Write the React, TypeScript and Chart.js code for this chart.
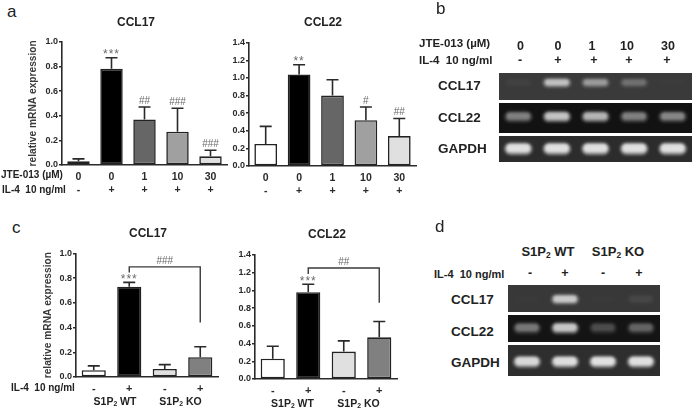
import React, { useEffect, useRef } from "react";
import { Chart, registerables } from "chart.js";

Chart.register(...registerables);
Chart.defaults.font.family = '"Liberation Sans", Arial, sans-serif';

// ---- data ----
const jteDoses = ["0", "0", "1", "10", "30"];
const il4Jte = ["-", "+", "+", "+", "+"];
const il4Geno = ["-", "+", "-", "+"];

const aCcl17Values = [0.03, 0.78, 0.37, 0.27, 0.07];
const aCcl17Errors = [0.02, 0.09, 0.1, 0.19, 0.05];
const aCcl17Marks = ["", "***", "##", "###", "###"];

const aCcl22Values = [0.25, 1.04, 0.8, 0.52, 0.34];
const aCcl22Errors = [0.2, 0.11, 0.18, 0.15, 0.2];
const aCcl22Marks = ["", "**", "", "#", "##"];

const cCcl17Values = [0.055, 0.73, 0.065, 0.16];
const cCcl17Errors = [0.035, 0.035, 0.035, 0.085];
const cCcl17Marks = ["", "***", "", ""];

const cCcl22Values = [0.23, 0.98, 0.31, 0.47];
const cCcl22Errors = [0.14, 0.09, 0.12, 0.18];
const cCcl22Marks = ["", "***", "", ""];

const jteFills = ["#ffffff", "#000000", "#666666", "#a0a0a0", "#e0e0e0"];
const genoFills17 = ["#ffffff", "#000000", "#e0e0e0", "#808080"];

const gelLanesB = ["0/-", "0/+", "1/+", "10/+", "30/+"];
const gelLanesD = ["WT -", "WT +", "KO -", "KO +"];
const gelB17 = [0.03, 0.58, 0.38, 0.2, 0.01];
const gelB22 = [0.36, 0.66, 0.58, 0.36, 0.38];
const gelBGapdh = [0.82, 0.82, 0.82, 0.82, 0.82];
const gelD17 = [0.01, 0.64, 0.01, 0.05];
const gelD22 = [0.32, 0.68, 0.17, 0.25];
const gelDGapdh = [0.76, 0.8, 0.82, 0.82];

// ---- plugins ----
const errorAndMarks = {
  id: "errorAndMarks",
  afterDatasetsDraw(chart: any, _a: any, o: any) {
    const { ctx, scales } = chart;
    const x = scales.x;
    const y = scales.y;
    ctx.save();
    ctx.strokeStyle = "#2a2a2a";
    ctx.lineWidth = 1.6;
    o.values.forEach((v: number, i: number) => {
      const cx = x.getPixelForValue(i);
      const top = y.getPixelForValue(v + o.errors[i]);
      ctx.beginPath();
      ctx.moveTo(cx, y.getPixelForValue(v));
      ctx.lineTo(cx, top);
      ctx.moveTo(cx - 6, top);
      ctx.lineTo(cx + 6, top);
      ctx.stroke();
      if (o.marks[i]) {
        const star = o.marks[i].includes("*");
        ctx.fillStyle = "#6a6a6a";
        ctx.font = (star ? "12px" : "10px") + ' "Liberation Sans", Arial, sans-serif';
        (ctx as any).letterSpacing = star ? "1px" : "0px";
        ctx.textAlign = "center";
        ctx.textBaseline = "middle";
        ctx.fillText(o.marks[i], cx, top - (star ? 3 : 6));
        (ctx as any).letterSpacing = "0px";
      }
    });
    if (o.bracket) {
      const b = o.bracket;
      const xl = x.getPixelForValue(b.from);
      const xr = x.getPixelForValue(b.to);
      const yTop = y.getPixelForValue(b.level);
      ctx.strokeStyle = "#3a3a3a";
      ctx.lineWidth = 1.4;
      ctx.beginPath();
      ctx.moveTo(xl, y.getPixelForValue(b.leftEnd));
      ctx.lineTo(xl, yTop);
      ctx.lineTo(xr, yTop);
      ctx.lineTo(xr, y.getPixelForValue(b.rightEnd));
      ctx.stroke();
      ctx.fillStyle = "#6a6a6a";
      ctx.font = '10px "Liberation Sans", Arial, sans-serif';
      ctx.textAlign = "center";
      ctx.textBaseline = "middle";
      ctx.fillText(b.label, (xl + xr) / 2, yTop - 6);
    }
    ctx.restore();
  },
};

const gelLook = {
  id: "gelLook",
  beforeDatasetsDraw(chart: any, _a: any, o: any) {
    const { ctx, chartArea: c } = chart;
    ctx.save();
    ctx.fillStyle = o.background;
    ctx.fillRect(c.left, c.top, c.right - c.left, c.bottom - c.top);
    ctx.restore();
  },
  beforeDatasetDraw(chart: any, args: any) {
    chart.ctx.save();
    chart.ctx.filter = args.index === 0 ? "blur(1.5px)" : "blur(1px)";
  },
  afterDatasetDraw(chart: any) {
    chart.ctx.restore();
  },
};

// ---- components ----
type BarProps = {
  title: string;
  yTitle?: string;
  labels: any[];
  values: number[];
  errors: number[];
  marks: string[];
  fills: string[];
  yMax: number;
  bracket?: any;
  canvasLeft: number;
  canvasRight: number;
  canvasTop: number;
  canvasBottom: number;
  axisX: number;
  areaRight: number;
  areaTop: number;
  baseY: number;
  titleY: number;
  tickSize: number;
};

function BarPanel(p: BarProps) {
  const ref = useRef<HTMLCanvasElement>(null);
  useEffect(() => {
    const padTop = p.titleY - p.canvasTop - 7.2;
    const chart = new Chart(ref.current!, {
      type: "bar",
      plugins: [errorAndMarks],
      data: {
        labels: p.labels,
        datasets: [
          {
            data: p.values,
            backgroundColor: p.fills,
            borderColor: "#222222",
            borderWidth: 1.6,
            borderSkipped: false,
            barPercentage: 0.68,
            categoryPercentage: 1,
            yAxisID: "y",
          },
        ],
      },
      options: {
        animation: false,
        responsive: false,
        layout: { padding: 0 },
        plugins: {
          legend: { display: false },
          tooltip: { enabled: false },
          title: {
            display: true,
            text: p.title,
            color: "#222222",
            font: { size: 12, weight: "bold", lineHeight: 1.2 },
            padding: { top: padTop, bottom: p.areaTop - p.canvasTop - padTop - 14.4 },
          },
          errorAndMarks: { values: p.values, errors: p.errors, marks: p.marks, bracket: p.bracket },
        } as any,
        scales: {
          x: {
            afterFit: (s: any) => {
              s.height = p.canvasBottom - p.baseY;
            },
            grid: { display: false, drawTicks: false },
            border: { color: "#2a2a2a", width: 1.6 },
            ticks: {
              autoSkip: false,
              maxRotation: 0,
              padding: 5,
              color: "#2a2a2a",
              font: { size: p.tickSize, weight: "bold", lineHeight: 1.3 },
            },
          },
          y: {
            min: 0,
            max: p.yMax,
            afterFit: (s: any) => {
              s.width = p.axisX - p.canvasLeft;
            },
            title: p.yTitle
              ? {
                  display: true,
                  text: p.yTitle,
                  color: "#3a3a3a",
                  font: { size: 10.2, weight: "bold" },
                  padding: { top: 5, bottom: 0 },
                }
              : { display: false },
            grid: { drawOnChartArea: false, drawTicks: true, tickLength: 3, color: "#2a2a2a", lineWidth: 1.4 },
            border: { color: "#2a2a2a", width: 1.6 },
            ticks: {
              stepSize: 0.2,
              padding: 1,
              color: "#2a2a2a",
              font: { size: 9, weight: "bold" },
              callback: (v: any) => Number(v).toFixed(1),
            },
          },
          // empty right-hand axis: keeps the title centred where the figure has it
          yRight: {
            type: "linear",
            position: "right",
            min: 0,
            max: p.yMax,
            afterFit: (s: any) => {
              s.width = p.canvasRight - p.areaRight;
            },
            grid: { display: false, drawTicks: false },
            border: { display: false },
            ticks: { display: false },
          },
        },
      } as any,
    });
    return () => chart.destroy();
  }, []);
  const w = p.canvasRight - p.canvasLeft;
  const h = p.canvasBottom - p.canvasTop;
  return (
    <canvas
      ref={ref}
      width={w}
      height={h}
      style={{ position: "absolute", left: p.canvasLeft, top: p.canvasTop, width: w, height: h }}
    />
  );
}

type GelProps = {
  lanes: string[];
  intensity: number[];
  background: string;
  left: number;
  top: number;
  right: number;
  bottom: number;
  low: number;
  high: number;
};

function GelRow(p: GelProps) {
  const ref = useRef<HTMLCanvasElement>(null);
  useEffect(() => {
    const glow = (v: number, k: number) => `rgba(255,255,255,${v * k})`;
    const mid = (p.low + p.high) / 2;
    const half = (p.high - p.low) / 2;
    const chart = new Chart(ref.current!, {
      type: "bar",
      plugins: [gelLook],
      data: {
        labels: p.lanes,
        datasets: [
          {
            data: p.intensity.map(() => [mid - half * 1.1, mid + half * 1.1]),
            backgroundColor: p.intensity.map((v) => glow(v, 0.7)),
            borderRadius: 6,
            borderSkipped: false,
            barPercentage: 0.72,
            categoryPercentage: 1,
            grouped: false,
            order: 2,
          },
          {
            data: p.intensity.map(() => [mid - half * 0.6, mid + half * 0.8]),
            backgroundColor: p.intensity.map((v) => glow(v, 0.8)),
            borderRadius: 4,
            borderSkipped: false,
            barPercentage: 0.6,
            categoryPercentage: 1,
            grouped: false,
            order: 1,
          },
        ],
      },
      options: {
        animation: false,
        responsive: false,
        layout: { padding: 0 },
        plugins: {
          legend: { display: false },
          tooltip: { enabled: false },
          gelLook: { background: p.background },
        } as any,
        scales: {
          x: { display: false },
          y: { display: false, min: 0, max: 1 },
        },
      } as any,
    });
    return () => chart.destroy();
  }, []);
  const w = p.right - p.left;
  const h = p.bottom - p.top;
  return (
    <canvas
      ref={ref}
      width={w}
      height={h}
      style={{ position: "absolute", left: p.left, top: p.top, width: w, height: h }}
    />
  );
}

function Txt(props: {
  x: number;
  y: number;
  size: number;
  center?: boolean;
  weight?: string;
  color?: string;
  children: React.ReactNode;
}) {
  return (
    <div
      style={{
        position: "absolute",
        left: props.x,
        top: props.y,
        transform: props.center ? "translate(-50%,-50%)" : "translate(0,-50%)",
        fontSize: props.size,
        fontWeight: props.weight ?? "bold",
        color: props.color ?? "#222",
        lineHeight: 1,
        whiteSpace: "pre",
      }}
    >
      {props.children}
    </div>
  );
}

const Sub = () => (
  <span style={{ fontSize: "0.65em", verticalAlign: "-0.25em" }}>2</span>
);

export default function App() {
  const jteLabels = jteDoses.map((d, i) => [d, il4Jte[i]]);
  return (
    <div
      style={{
        position: "absolute",
        left: 0,
        top: 0,
        width: 698,
        height: 411,
        overflow: "hidden",
        background: "#fff",
        fontFamily: '"Liberation Sans", Arial, sans-serif',
        filter: "blur(0.35px)",
      }}
    >
      <BarPanel
        title="CCL17"
        yTitle="relative mRNA expression"
        labels={jteLabels}
        values={aCcl17Values}
        errors={aCcl17Errors}
        marks={aCcl17Marks}
        fills={jteFills}
        yMax={1}
        canvasLeft={22}
        canvasRight={250}
        canvasTop={0}
        canvasBottom={205}
        axisX={62}
        areaRight={227}
        areaTop={41.7}
        baseY={165}
        titleY={23}
        tickSize={10.5}
      />
      <BarPanel
        title="CCL22"
        labels={jteLabels}
        values={aCcl22Values}
        errors={aCcl22Errors}
        marks={aCcl22Marks}
        fills={jteFills}
        yMax={1.4}
        canvasLeft={205}
        canvasRight={441}
        canvasTop={0}
        canvasBottom={205}
        axisX={249}
        areaRight={416}
        areaTop={42.7}
        baseY={166}
        titleY={23}
        tickSize={10.5}
      />
      <BarPanel
        title="CCL17"
        yTitle="relative mRNA expression"
        labels={il4Geno}
        values={cCcl17Values}
        errors={cCcl17Errors}
        marks={cCcl17Marks}
        fills={genoFills17}
        yMax={1}
        bracket={{ from: 1, to: 3, level: 0.89, leftEnd: 0.845, rightEnd: 0.44, label: "###" }}
        canvasLeft={37}
        canvasRight={259}
        canvasTop={215}
        canvasBottom={411}
        axisX={76}
        areaRight={218}
        areaTop={253.3}
        baseY={377}
        titleY={234}
        tickSize={11}
      />
      <BarPanel
        title="CCL22"
        labels={il4Geno}
        values={cCcl22Values}
        errors={cCcl22Errors}
        marks={cCcl22Marks}
        fills={genoFills17}
        yMax={1.4}
        bracket={{ from: 1, to: 3, level: 1.253, leftEnd: 1.185, rightEnd: 0.86, label: "##" }}
        canvasLeft={230}
        canvasRight={424}
        canvasTop={215}
        canvasBottom={411}
        axisX={255}
        areaRight={397}
        areaTop={255}
        baseY={379}
        titleY={235}
        tickSize={11}
      />

      <GelRow lanes={gelLanesB} intensity={gelB17} background="#3a3a3a" left={499} top={73} right={692} bottom={100} low={0.49} high={0.79} />
      <GelRow lanes={gelLanesB} intensity={gelB22} background="#121212" left={499} top={103} right={692} bottom={133} low={0.38} high={0.71} />
      <GelRow lanes={gelLanesB} intensity={gelBGapdh} background="#2c2c2c" left={499} top={136} right={692} bottom={162} low={0.3} high={0.72} />
      <GelRow lanes={gelLanesD} intensity={gelD17} background="#383838" left={508} top={285} right={660} bottom={312} low={0.31} high={0.63} />
      <GelRow lanes={gelLanesD} intensity={gelD22} background="#141414" left={508} top={315} right={660} bottom={342} low={0.33} high={0.7} />
      <GelRow lanes={gelLanesD} intensity={gelDGapdh} background="#2e2e2e" left={508} top={345} right={660} bottom={376} low={0.29} high={0.63} />

      <Txt x={7} y={11} size={17} weight="normal">a</Txt>
      <Txt x={436} y={8} size={17} weight="normal">b</Txt>
      <Txt x={12} y={227} size={17} weight="normal">c</Txt>
      <Txt x={435} y={226} size={17} weight="normal">d</Txt>

      <Txt x={1} y={175} size={10}>JTE-013 (µM)</Txt>
      <Txt x={2} y={189.5} size={10}>IL-4  10 ng/ml</Txt>
      <Txt x={11} y={387.5} size={10}>IL-4  10 ng/ml</Txt>
      <Txt x={115} y={401.5} size={10.5} center>S1P<Sub /> WT</Txt>
      <Txt x={180.5} y={401.5} size={10.5} center>S1P<Sub /> KO</Txt>
      <Txt x={292.5} y={404} size={10.5} center>S1P<Sub /> WT</Txt>
      <Txt x={358.5} y={404} size={10.5} center>S1P<Sub /> KO</Txt>

      <Txt x={419} y={44} size={11.5}>JTE-013 (µM)</Txt>
      <Txt x={419} y={60.5} size={11.5}>IL-4  10 ng/ml</Txt>
      {jteDoses.map((d, i) => (
        <Txt key={i} x={[520.5, 558, 592, 627, 668][i]} y={46} size={12.5} center>{d}</Txt>
      ))}
      {il4Jte.map((d, i) => (
        <Txt key={i} x={[520, 558, 594, 629, 667][i]} y={60} size={12.5} center>{d}</Txt>
      ))}
      <Txt x={438} y={86} size={13.5}>CCL17</Txt>
      <Txt x={438} y={118} size={13.5}>CCL22</Txt>
      <Txt x={438} y={149} size={13.5}>GAPDH</Txt>

      <Txt x={548} y={252} size={13} center>S1P<Sub /> WT</Txt>
      <Txt x={618} y={252} size={13} center>S1P<Sub /> KO</Txt>
      <Txt x={434} y={274} size={11}>IL-4  10 ng/ml</Txt>
      {il4Geno.map((d, i) => (
        <Txt key={i} x={[530, 565, 603, 639][i]} y={273} size={12.5} center>{d}</Txt>
      ))}
      <Txt x={451} y={300} size={13.5}>CCL17</Txt>
      <Txt x={451} y={332} size={13.5}>CCL22</Txt>
      <Txt x={451} y={363} size={13.5}>GAPDH</Txt>
    </div>
  );
}
